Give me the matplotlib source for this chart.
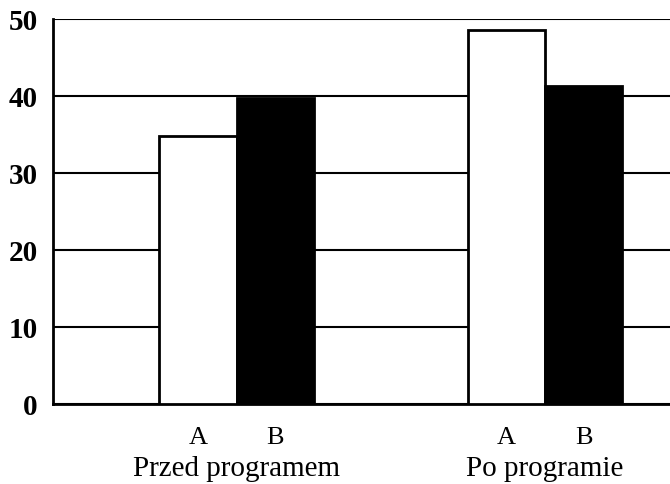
import matplotlib
matplotlib.use("Agg")
import matplotlib.pyplot as plt
import numpy as np

groups = ["Przed programem", "Po programie"]
series = ["A", "B"]
values_A = [34.8, 48.6]
values_B = [39.7, 41.3]
yticks = [0, 10, 20, 30, 40, 50]

fig = plt.figure(figsize=(6.7, 4.85), dpi=100)
ax = fig.add_axes([0.079, 0.165, 0.921, 0.794])

centers = np.array([2.38, 6.38])
w = 1.0
ax.bar(centers - w/2, values_A, width=w, color="white", edgecolor="black", linewidth=2, zorder=3)
ax.bar(centers + w/2, values_B, width=w, color="black", edgecolor="black", linewidth=2, zorder=3)

ax.set_xlim(0, 8.0)
ax.set_ylim(0, 50)
ax.set_yticks(yticks)
ax.yaxis.grid(True, color="black", linewidth=1.5, zorder=0)
ax.set_axisbelow(True)
for s in ["top", "right"]:
    ax.spines[s].set_visible(False)
for s in ["left", "bottom"]:
    ax.spines[s].set_linewidth(2)
ax.tick_params(axis="y", length=0, pad=11)
ax.tick_params(axis="x", length=0, pad=16)
for lab in ax.get_yticklabels():
    lab.set_fontfamily("Liberation Serif")
    lab.set_fontweight("bold")
    lab.set_fontsize(21)

xt = np.concatenate([centers - w/2, centers + w/2])
ax.set_xticks(xt)
ax.set_xticklabels([series[0]] * 2 + [series[1]] * 2, fontfamily="Liberation Serif", fontsize=19)
for c, g in zip(centers, groups):
    ax.text(c, -0.133, g, transform=ax.get_xaxis_transform(), ha="center", va="top",
            fontfamily="Liberation Serif", fontsize=21)

fig.savefig("out.png", dpi=100)
